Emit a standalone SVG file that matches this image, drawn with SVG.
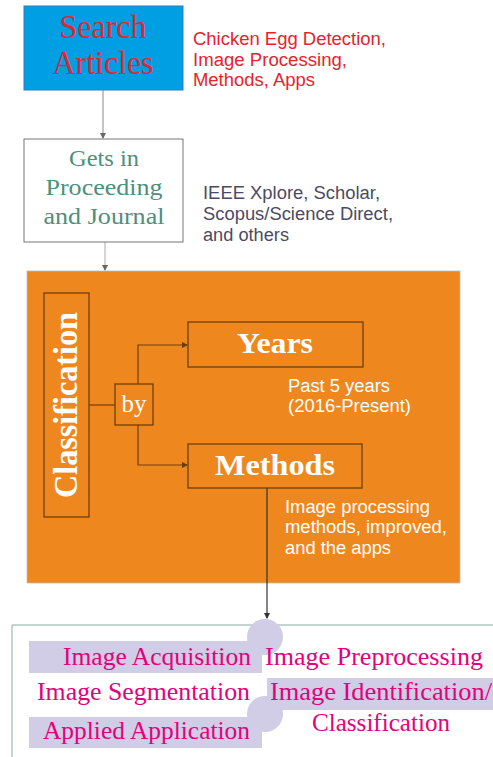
<svg xmlns="http://www.w3.org/2000/svg" width="493" height="757" viewBox="0 0 493 757">
<defs>
<marker id="arr" markerWidth="6" markerHeight="6" refX="5" refY="3" orient="auto" markerUnits="userSpaceOnUse"><path d="M0,0 L6,3 L0,6 z" fill="#666"/></marker>
<marker id="arrB" markerWidth="6" markerHeight="6" refX="5" refY="3" orient="auto" markerUnits="userSpaceOnUse"><path d="M0,0 L6,3 L0,6 z" fill="#6a3c0a"/></marker>
<marker id="arrD" markerWidth="6" markerHeight="6" refX="5" refY="3" orient="auto" markerUnits="userSpaceOnUse"><path d="M0,0 L6,3 L0,6 z" fill="#333"/></marker>
</defs>
<style>
.serif{font-family:"Liberation Serif","DejaVu Serif",serif}
.sans{font-family:"Liberation Sans",Arial,sans-serif;font-size:18px}
.wb{fill:#fff;font-weight:bold}
.mag{fill:#e5007d;font-size:25px}
.lav{fill:#d1cde6}
.obox{fill:none;stroke:#6e3f0c;stroke-width:1.3}
</style>
<rect width="493" height="757" fill="#fff"/>

<g id="connectors" fill="none">
<line x1="103" y1="90" x2="103" y2="138" stroke="#888" stroke-width="1" marker-end="url(#arr)"/>
<line x1="105" y1="242" x2="105" y2="270" stroke="#aaa" stroke-width="1" marker-end="url(#arr)"/>
</g>

<g id="search">
<rect x="24" y="6" width="159" height="84" fill="#009fe3" stroke="#2a7fc0" stroke-width="1"/>
<text class="serif" x="103" y="38" font-size="33" fill="#e32632" text-anchor="middle" textLength="87" lengthAdjust="spacingAndGlyphs">Search</text>
<text class="serif" x="103" y="74" font-size="33" fill="#e32632" text-anchor="middle" textLength="101" lengthAdjust="spacingAndGlyphs">Articles</text>
</g>
<g id="search-note" class="sans" fill="#e8222c">
<text x="193" y="45" textLength="193" lengthAdjust="spacingAndGlyphs">Chicken Egg Detection,</text>
<text x="193" y="66" textLength="154" lengthAdjust="spacingAndGlyphs">Image Processing,</text>
<text x="193" y="86" textLength="122" lengthAdjust="spacingAndGlyphs">Methods, Apps</text>
</g>

<g id="gets">
<rect x="24" y="139" width="159" height="103" fill="#fff" stroke="#777" stroke-width="1"/>
<text class="serif" x="104" y="166" font-size="24" fill="#4e8f7c" text-anchor="middle" textLength="70" lengthAdjust="spacingAndGlyphs">Gets in</text>
<text class="serif" x="104" y="195" font-size="24" fill="#4e8f7c" text-anchor="middle" textLength="117" lengthAdjust="spacingAndGlyphs">Proceeding</text>
<text class="serif" x="104" y="224" font-size="24" fill="#4e8f7c" text-anchor="middle" textLength="121" lengthAdjust="spacingAndGlyphs">and Journal</text>
</g>
<g id="gets-note" class="sans" fill="#4c4a62">
<text x="203" y="199" textLength="177" lengthAdjust="spacingAndGlyphs">IEEE Xplore, Scholar,</text>
<text x="203" y="220" textLength="190" lengthAdjust="spacingAndGlyphs">Scopus/Science Direct,</text>
<text x="203" y="241" textLength="86" lengthAdjust="spacingAndGlyphs">and others</text>
</g>

<g id="classification-panel">
<rect x="27" y="271" width="433" height="312" fill="#ee881e" stroke="#bbb" stroke-width="0.8"/>
</g>

<g id="inner-connectors" fill="none" stroke="#6e3f0c" stroke-width="1.2">
<line x1="89" y1="405" x2="115" y2="405"/>
<polyline points="138,384 138,345 187,345" marker-end="url(#arrB)"/>
<polyline points="138,425 138,465 187,465" marker-end="url(#arrB)"/>
<line x1="267" y1="488" x2="267" y2="618" stroke="#333" marker-end="url(#arrD)"/>
</g>

<g id="classification">
<rect class="obox" x="44" y="293" width="45" height="224"/>
<text class="serif wb" transform="translate(77,405) rotate(-90)" font-size="33" text-anchor="middle" textLength="186" lengthAdjust="spacingAndGlyphs">Classification</text>
</g>
<g id="by">
<rect class="obox" x="115" y="384" width="38" height="41"/>
<text class="serif" x="134" y="412" font-size="25" fill="#fff" text-anchor="middle">by</text>
</g>
<g id="years">
<rect class="obox" x="188" y="322" width="175" height="45"/>
<text class="serif wb" x="275" y="353" font-size="30" text-anchor="middle" textLength="76" lengthAdjust="spacingAndGlyphs">Years</text>
</g>
<g id="years-note" class="sans" fill="#fff">
<text x="288" y="392" textLength="102" lengthAdjust="spacingAndGlyphs">Past 5 years</text>
<text x="288" y="412" textLength="123" lengthAdjust="spacingAndGlyphs">(2016-Present)</text>
</g>
<g id="methods">
<rect class="obox" x="188" y="444" width="174" height="44"/>
<text class="serif wb" x="275" y="475" font-size="30" text-anchor="middle" textLength="120" lengthAdjust="spacingAndGlyphs">Methods</text>
</g>
<g id="methods-note" class="sans" fill="#fff">
<text x="285" y="513" textLength="145" lengthAdjust="spacingAndGlyphs">Image processing</text>
<text x="285" y="533" textLength="162" lengthAdjust="spacingAndGlyphs">methods, improved,</text>
<text x="285" y="554" textLength="106" lengthAdjust="spacingAndGlyphs">and the apps</text>
</g>

<g id="steps-frame">
<polyline points="12,757 12,625 493,625" fill="none" stroke="#8aaaa4" stroke-width="1"/>
</g>
<g id="steps-shapes">
<rect class="lav" x="29" y="641" width="233" height="32"/>
<circle class="lav" cx="265" cy="637" r="18"/>
<rect class="lav" x="267" y="678" width="226" height="32"/>
<circle class="lav" cx="265" cy="714" r="18"/>
<rect class="lav" x="29" y="717" width="233" height="31"/>
</g>
<g id="step-acquisition"><text class="serif mag" x="251" y="665" text-anchor="end" textLength="188" lengthAdjust="spacingAndGlyphs">Image Acquisition</text></g>
<g id="step-preprocessing"><text class="serif mag" x="265" y="665" textLength="218" lengthAdjust="spacingAndGlyphs">Image Preprocessing</text></g>
<g id="step-segmentation"><text class="serif mag" x="37" y="700" textLength="213" lengthAdjust="spacingAndGlyphs">Image Segmentation</text></g>
<g id="step-identification">
<text class="serif mag" x="270" y="700" textLength="222" lengthAdjust="spacingAndGlyphs">Image Identification/</text>
<text class="serif mag" x="381" y="731" text-anchor="middle" textLength="138" lengthAdjust="spacingAndGlyphs">Classification</text>
</g>
<g id="step-application"><text class="serif mag" x="43" y="739" textLength="207" lengthAdjust="spacingAndGlyphs">Applied Application</text></g>
</svg>
